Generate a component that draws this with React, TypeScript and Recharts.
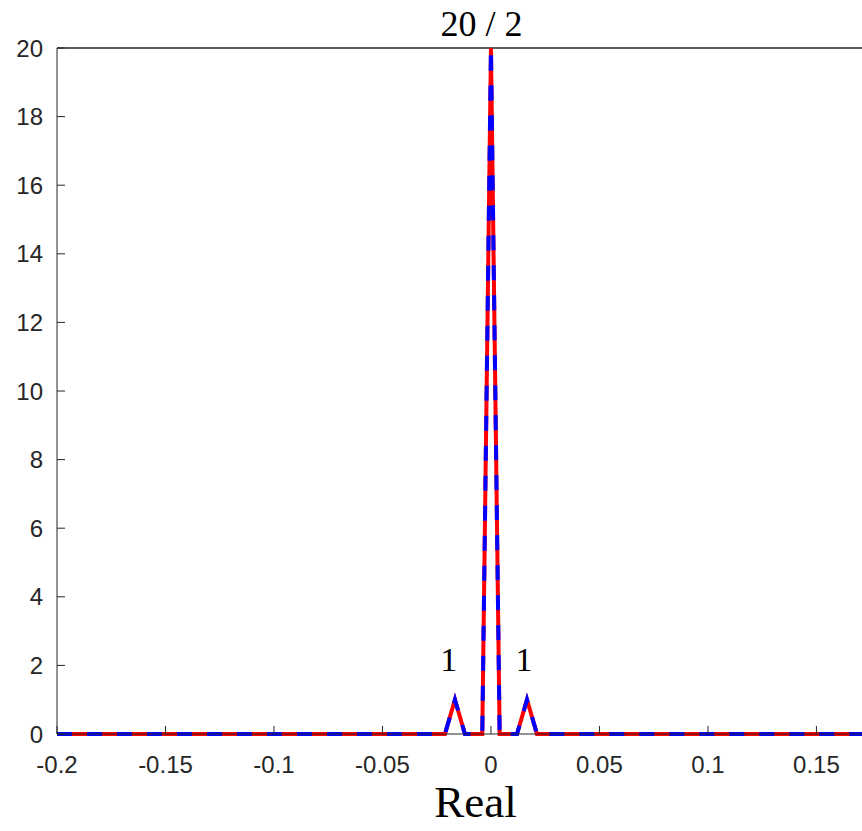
import React from 'react';
import { LineChart, Line, XAxis, YAxis, ReferenceLine, ReferenceDot } from 'recharts';

// x positions of the histogram outline and the two (identical) series
const xValues = [-0.2, -0.0212, -0.0166, -0.012, -0.004, 0, 0.004, 0.012, 0.0166, 0.0212, 0.171];
const redValues = [0, 0, 1, 0, 0, 20, 0, 0, 1, 0, 0];
const blueValues = [0, 0, 1, 0, 0, 20, 0, 0, 1, 0, 0];

const xTicks = [-0.2, -0.15, -0.1, -0.05, 0, 0.05, 0.1, 0.15];
const yTicks = [0, 2, 4, 6, 8, 10, 12, 14, 16, 18, 20];

// text annotations: [x, y, text, font size]
const notes: [number, number, string, number][] = [
  [-0.0044, 20.73, '20 / 2', 36],
  [-0.0194, 2.2, '1', 34],
  [0.0152, 2.2, '1', 34],
];

const data = xValues.map((x, i) => ({ x, red: redValues[i], blue: blueValues[i] }));

const axisColor = '#262626';
const tickStyle = { fill: axisColor, fontSize: 24, fontFamily: 'Liberation Sans, Arial, sans-serif' };

export default function App() {
  return (
    <div style={{ position: 'absolute', left: 0, top: 0, width: 862, height: 831, background: '#fff' }}>
      <LineChart width={862} height={831} data={data} margin={{ top: 48, right: 0, left: 0, bottom: 0 }}>
        <XAxis
          dataKey="x"
          type="number"
          domain={[-0.2, 0.171]}
          ticks={xTicks}
          allowDataOverflow
          height={97}
          stroke={axisColor}
          tickSize={-8}
          tickMargin={30}
          tick={tickStyle}
          label={{
            value: 'Real',
            position: 'insideBottom',
            offset: 14,
            dx: 16,
            fill: '#000',
            fontSize: 45,
            fontFamily: 'Liberation Serif, Times New Roman, serif',
          }}
        />
        <YAxis
          type="number"
          domain={[0, 20]}
          ticks={yTicks}
          width={57}
          stroke={axisColor}
          tickSize={-8}
          tickMargin={22}
          tick={tickStyle}
        />
        <ReferenceLine y={20} stroke={axisColor} strokeWidth={1.5} />
        <Line
          dataKey="red"
          type="linear"
          stroke="#ff0000"
          strokeWidth={4}
          dot={false}
          isAnimationActive={false}
        />
        <Line
          dataKey="blue"
          type="linear"
          stroke="#0000ff"
          strokeWidth={4}
          strokeDasharray="15 15"
          dot={false}
          isAnimationActive={false}
        />
        {notes.map(([x, y, text, size], i) => (
          <ReferenceDot
            key={i}
            x={x}
            y={y}
            r={0}
            ifOverflow="visible"
            stroke="none"
            fill="none"
            label={{
              value: text,
              position: 'center',
              fill: '#000',
              fontSize: size,
              fontFamily: 'Liberation Serif, Times New Roman, serif',
            }}
          />
        ))}
      </LineChart>
    </div>
  );
}
